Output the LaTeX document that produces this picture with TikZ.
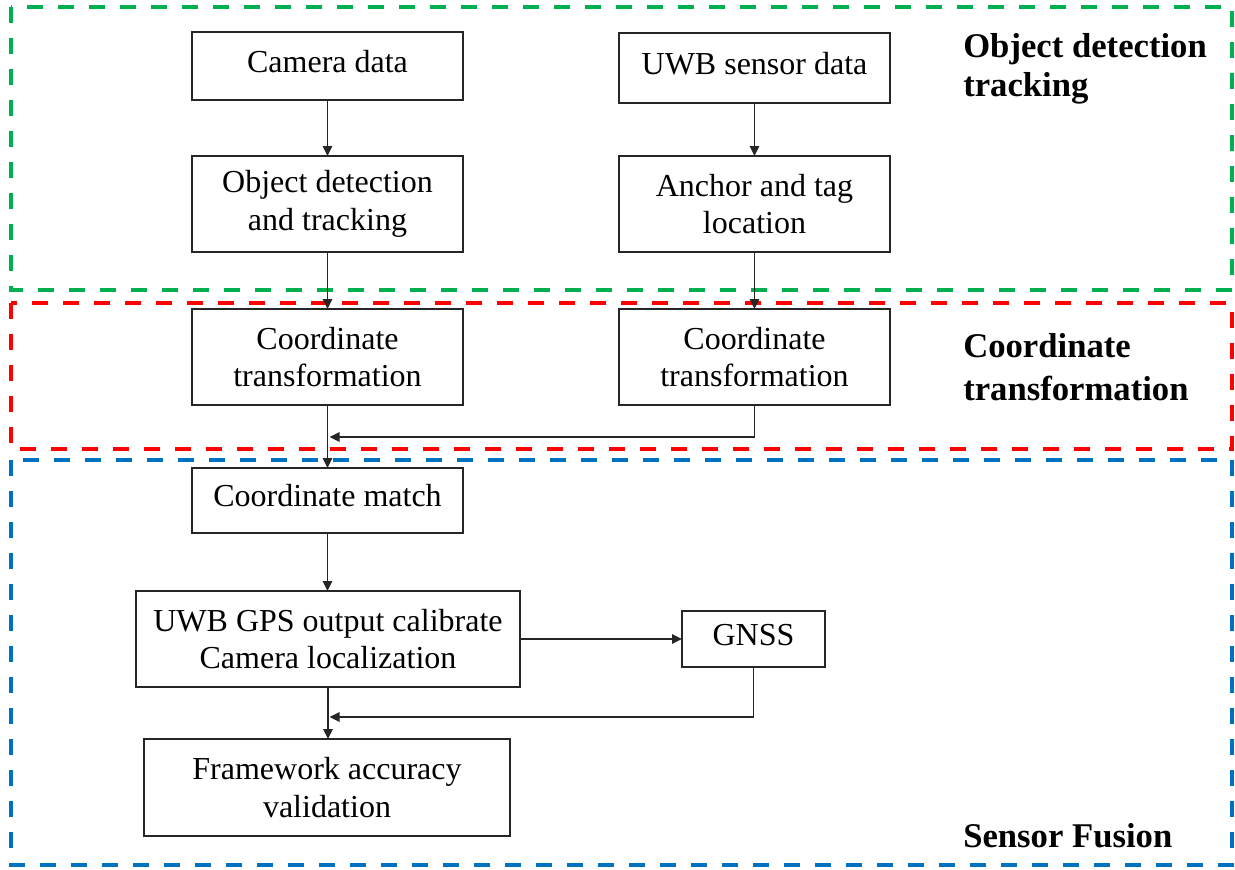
\documentclass[tikz,border=0pt]{standalone}
\usepackage{fontspec}
\setmainfont{Liberation Serif}
\usetikzlibrary{arrows.meta}

\definecolor{zonegreen}{HTML}{00B050}
\definecolor{zonered}{HTML}{FF0000}
\definecolor{zoneblue}{HTML}{0070C0}
\definecolor{edgegray}{HTML}{262626}

\begin{document}
\begin{tikzpicture}[x=0.75pt,y=-0.75pt,
  zone/.style={line width=3.4pt, dash pattern=on 12pt off 11.25pt},
  procbox/.style={draw=edgegray, line width=1.1pt, fill=white, inner sep=0pt,
    outer sep=0pt, align=center, font=\fontsize{24}{28}\selectfont},
  oneline/.style={text height=17pt, text depth=8pt},
  flow/.style={draw=edgegray, line width=1.25pt, -{Triangle[length=7.5pt,width=7pt]}},
  zonelabel/.style={anchor=base west, inner sep=0pt, font=\bfseries\fontsize{26}{30}\selectfont}
]
\useasboundingbox (0,0) rectangle (1235,869);

% dashed stage frames
\draw[zone, zonegreen] (11,7) rectangle (1232,290);
\draw[zone, zonered]   (11,303) rectangle (1232,449);
\draw[zone, zoneblue]  (11,460) rectangle (1232,865);

% stage titles
\node[zonelabel] (t1a) at (963,57)  {Object detection};
\node[zonelabel] (t1b) at (963,96)  {tracking};
\node[zonelabel] (t2a) at (963,357) {Coordinate};
\node[zonelabel] (t2b) at (963,400) {transformation};
\node[zonelabel] (t3)  at (963,847) {Sensor Fusion};

% processing steps
\node[procbox, oneline, minimum width=203.25pt, minimum height=51pt]   (cam)  at (327.5,66)  {Camera data};
\node[procbox, oneline, minimum width=203.25pt, minimum height=52.5pt] (uwb)  at (754.5,68)  {UWB sensor data};
\node[procbox, minimum width=203.25pt, minimum height=72pt] (odt)  at (327.5,204) {Object detection\\and tracking};
\node[procbox, minimum width=203.25pt, minimum height=72pt] (anc)  at (754.5,204) {Anchor and tag\\location};
\node[procbox, minimum width=203.25pt, minimum height=72pt] (ctl)  at (327.5,357) {Coordinate\\transformation};
\node[procbox, minimum width=203.25pt, minimum height=72pt] (ctr)  at (754.5,357) {Coordinate\\transformation};
\node[procbox, oneline, minimum width=203.25pt, minimum height=48.75pt] (cm) at (327.5,500.5) {Coordinate match};
\node[procbox, minimum width=288pt, minimum height=72pt] (ugps) at (328,639) {UWB GPS output calibrate\\Camera localization};
\node[procbox, oneline, minimum width=107.25pt, minimum height=42pt] (gnss) at (753.5,639) {GNSS};
\node[procbox, minimum width=274.5pt, minimum height=72.75pt] (fav) at (327,787.5) {Framework accuracy\\validation};

% junction points on the main column
\coordinate (j1) at (329.5,437);
\coordinate (j2) at (329.5,717);

% connectors
\draw[flow] (cam.south) -- (odt.north);
\draw[flow] (uwb.south) -- (anc.north);
\draw[flow] (odt.south) -- (ctl.north);
\draw[flow] (anc.south) -- (ctr.north);
\draw[flow] (ctl.south) -- (cm.north);
\draw[flow] (ctr.south) |- (j1);
\draw[flow] (cm.south) -- (cm.south |- ugps.north);
\draw[flow] (ugps.east) -- (gnss.west);
\draw[flow] (gnss.south) |- (j2);
\draw[flow] (ugps.south) -- (ugps.south |- fav.north);
\end{tikzpicture}
\end{document}
